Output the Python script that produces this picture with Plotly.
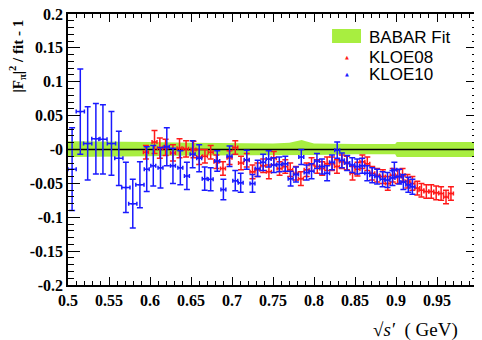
import plotly.graph_objects as go

# ---- data ----
kloe10_x = [0.505, 0.515, 0.524, 0.534, 0.5426, 0.553, 0.562, 0.5706, 0.579, 0.5877,
            0.596, 0.604, 0.6128, 0.6205, 0.628, 0.637, 0.645, 0.652, 0.660, 0.6667,
            0.674, 0.682, 0.6895, 0.697, 0.704, 0.7106, 0.718, 0.725, 0.7313, 0.738,
            0.7447, 0.751, 0.7577, 0.765, 0.7715, 0.778, 0.7845, 0.791, 0.797, 0.8036,
            0.8097, 0.816, 0.822, 0.8283, 0.834, 0.8405, 0.8466, 0.8527, 0.8588, 0.865,
            0.871, 0.877, 0.8836, 0.8896, 0.8957, 0.898, 0.904, 0.909, 0.915, 0.920]
kloe10_y = [-0.029, 0.056, 0.009, 0.016, 0.015, 0.009, -0.013, -0.056, -0.080, -0.052,
            -0.029, -0.024, -0.027, 0.004, -0.024, -0.027, -0.039, -0.007, -0.013, -0.043,
            -0.044, -0.017, -0.059, -0.010, -0.046, -0.049, -0.015, -0.050, -0.028, -0.019,
            -0.014, -0.023, -0.022, -0.021, -0.043, -0.037, -0.011, -0.034, -0.032, -0.017,
            -0.025, -0.035, -0.019, -0.001, -0.016, -0.020, -0.023, -0.025, -0.024, -0.035,
            -0.038, -0.040, -0.044, -0.045, -0.042, -0.030, -0.040, -0.048, -0.052, -0.055]
kloe10_ey = [0.061, 0.063, 0.054, 0.052, 0.051, 0.047, 0.040, 0.037, 0.036, 0.034,
             0.033, 0.030, 0.030, 0.028, 0.026, 0.025, 0.020, 0.020, 0.020, 0.017,
             0.017, 0.015, 0.015, 0.015, 0.015, 0.014, 0.014, 0.013, 0.012, 0.012,
             0.012, 0.011, 0.011, 0.011, 0.011, 0.011, 0.011, 0.011, 0.011, 0.011,
             0.011, 0.011, 0.011, 0.012, 0.011, 0.011, 0.011, 0.011, 0.011, 0.011,
             0.011, 0.011, 0.011, 0.011, 0.011, 0.011, 0.011, 0.011, 0.011, 0.011]
kloe10_ex = [0.005] * 10 + [0.003] * 50

kloe08_x = [0.595, 0.6055, 0.612, 0.619, 0.628, 0.636, 0.644, 0.653, 0.660, 0.667,
            0.674, 0.681, 0.689, 0.697, 0.704, 0.711, 0.718, 0.725, 0.731, 0.738,
            0.745, 0.751, 0.758, 0.765, 0.771, 0.778, 0.784, 0.791, 0.797, 0.804,
            0.810, 0.816, 0.822, 0.828, 0.834, 0.840, 0.847, 0.853, 0.859, 0.865,
            0.871, 0.877, 0.884, 0.890, 0.896, 0.902, 0.908, 0.914, 0.920, 0.926,
            0.931, 0.937, 0.943, 0.949, 0.955, 0.961, 0.967]
kloe08_y = [-0.004, 0.011, 0.002, 0.003, -0.005, 0.002, 0.001, 0.000, -0.011, -0.010,
            -0.004, -0.018, -0.028, -0.012, 0.003, -0.020, -0.016, -0.033, -0.030, -0.024,
            -0.033, -0.013, -0.028, -0.025, -0.030, -0.035, -0.043, -0.030, -0.022, -0.025,
            -0.028, -0.021, -0.021, -0.025, -0.018, -0.020, -0.035, -0.029, -0.018, -0.021,
            -0.035, -0.038, -0.040, -0.050, -0.038, -0.040, -0.038, -0.047, -0.050, -0.057,
            -0.060, -0.062, -0.062, -0.064, -0.065, -0.070, -0.065]
kloe08_ey = [0.010, 0.017, 0.015, 0.012, 0.012, 0.014, 0.012, 0.012, 0.011, 0.010] + [0.010] * 47
kloe08_ex = [0.003] * 57

band_x = [0.5, 0.55, 0.6, 0.65, 0.7, 0.75, 0.77, 0.78, 0.785, 0.79, 0.8, 0.85, 0.899, 0.901, 0.95, 1.0]
band_hi = [0.012, 0.012, 0.011, 0.010, 0.009, 0.009, 0.010, 0.013, 0.014, 0.012, 0.009, 0.008, 0.008, 0.011, 0.011, 0.011]
band_lo = [-0.011, -0.011, -0.010, -0.009, -0.009, -0.008, -0.008, -0.009, -0.008, -0.008, -0.008, -0.007, -0.007, -0.011, -0.011, -0.011]

ref_x = [0.5, 1.0]
ref_y = [0.0, 0.0]

x_ticks = [0.5, 0.55, 0.6, 0.65, 0.7, 0.75, 0.8, 0.85, 0.9, 0.95, 1.0]
x_labels = ["0.5", "0.55", "0.6", "0.65", "0.7", "0.75", "0.8", "0.85", "0.9", "0.95", "1"]
y_ticks = [0.2, 0.15, 0.1, 0.05, 0.0, -0.05, -0.1, -0.15, -0.2]
y_labels = ["0.2", "0.15", "0.1", "0.05", "-0", "-0.05", "-0.1", "-0.15", "-0.2"]

GREEN = "#a8ee40"
RED = "#ff1a1a"
BLUE = "#1a1aff"

fig = go.Figure()
fig.add_trace(go.Scatter(x=band_x, y=band_lo, mode="lines", line=dict(width=0, color=GREEN),
                         showlegend=False, hoverinfo="skip"))
fig.add_trace(go.Scatter(x=band_x, y=band_hi, mode="lines", line=dict(width=0, color=GREEN),
                         fill="tonexty", fillcolor=GREEN, showlegend=False, hoverinfo="skip"))
fig.add_trace(go.Scatter(x=ref_x, y=ref_y, mode="lines", line=dict(color="black", width=1.5),
                         showlegend=False))

def data_trace(x, y, ex, ey, color, name):
    return go.Scatter(
        x=x, y=y, mode="markers", name=name,
        marker=dict(symbol="triangle-up", size=3, color=color),
        error_y=dict(type="data", array=ey, color=color, thickness=1.5, width=3),
        error_x=dict(type="data", array=ex, color=color, thickness=1.5, width=2),
        showlegend=False,
    )

fig.add_trace(data_trace(kloe08_x, kloe08_y, kloe08_ex, kloe08_ey, RED, "KLOE08"))
fig.add_trace(data_trace(kloe10_x, kloe10_y, kloe10_ex, kloe10_ey, BLUE, "KLOE10"))

tick_font = dict(family="Liberation Serif", size=16, color="black", weight="bold")

# page body has an 8px default margin, so the figure is sized/offset to compensate
fig.update_layout(
    width=474, height=332,
    margin=dict(l=60, r=4, t=6, b=55, autoexpand=False),
    paper_bgcolor="white", plot_bgcolor="white",
    showlegend=False,
    xaxis=dict(range=[0.5, 1.0], tickmode="array", tickvals=x_ticks, ticktext=x_labels,
               ticks="inside", ticklen=8, tickwidth=1, tickcolor="black",
               showline=True, linecolor="black", linewidth=1.5, mirror="ticks",
               showgrid=False, zeroline=False, tickfont=tick_font, automargin=False,
               ticklabeloverflow="allow",
               minor=dict(tickmode="linear", tick0=0.5, dtick=0.01, ticks="inside",
                          ticklen=4, tickwidth=1, tickcolor="black", showgrid=False)),
    yaxis=dict(range=[-0.2, 0.2], tickmode="array", tickvals=y_ticks, ticktext=y_labels,
               ticks="inside", ticklen=12, tickwidth=1, tickcolor="black",
               showline=True, linecolor="black", linewidth=1.5, mirror="ticks",
               showgrid=False, zeroline=False, tickfont=tick_font, automargin=False,
               ticklabeloverflow="allow",
               minor=dict(tickmode="linear", tick0=-0.2, dtick=0.01, ticks="inside",
                          ticklen=6, tickwidth=1, tickcolor="black", showgrid=False)),
)

# legend drawn manually
fig.add_shape(type="rect", xref="paper", yref="paper", x0=0.644, x1=0.7146, y0=0.893, y1=0.9446,
              fillcolor=GREEN, line=dict(width=0))
leg_font = dict(family="Liberation Sans", size=17, color="black")
fig.add_annotation(xref="paper", yref="paper", x=0.7317, y=0.915, text="BABAR Fit",
                   showarrow=False, xanchor="left", yanchor="middle", font=leg_font, borderpad=0)
fig.add_annotation(xref="paper", yref="paper", x=0.7317, y=0.841, text="KLOE08",
                   showarrow=False, xanchor="left", yanchor="middle", font=leg_font, borderpad=0)
fig.add_annotation(xref="paper", yref="paper", x=0.7317, y=0.775, text="KLOE10",
                   showarrow=False, xanchor="left", yanchor="middle", font=leg_font, borderpad=0)
fig.add_annotation(xref="paper", yref="paper", x=0.680, y=0.843, text="▲",
                   showarrow=False, xanchor="center", yanchor="middle", borderpad=0,
                   font=dict(family="DejaVu Sans", size=5, color=RED))
fig.add_annotation(xref="paper", yref="paper", x=0.680, y=0.777, text="▲",
                   showarrow=False, xanchor="center", yanchor="middle", borderpad=0,
                   font=dict(family="DejaVu Sans", size=5, color=BLUE))

# axis titles
fig.add_annotation(xref="paper", yref="paper", x=-0.122, y=0.989,
                   text="|F<sub>π</sub>|<sup>2</sup> / fit - 1", textangle=-90,
                   showarrow=False, xanchor="center", yanchor="top",
                   font=dict(family="Liberation Serif", size=15, color="black", weight="bold"))
fig.add_annotation(xref="paper", yref="paper", x=0.956, y=-0.166,
                   text="√<i>s′</i>  ( GeV)",
                   showarrow=False, xanchor="right", yanchor="middle",
                   font=dict(family="Liberation Serif", size=19, color="black"))

fig.write_html("out.html")
